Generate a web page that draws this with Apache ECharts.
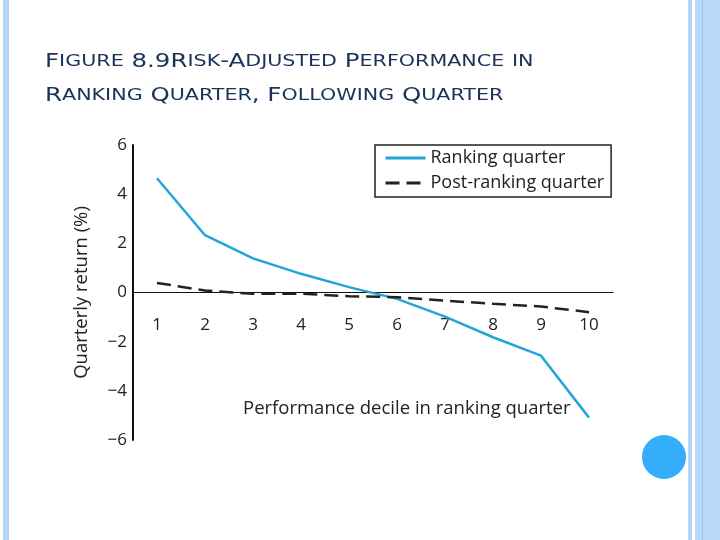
<!DOCTYPE html>
<html>
<head>
<meta charset="utf-8">
<script src="https://cdn.jsdelivr.net/npm/echarts@6/dist/echarts.min.js"></script>
<style>
  html, body { margin: 0; padding: 0; background: #ffffff; }
  #main { width: 720px; height: 540px; }
</style>
</head>
<body>
<div id="main"></div>
<script>
// deciles 1..10
var deciles = ["1", "2", "3", "4", "5", "6", "7", "8", "9", "10"];
var rankingQuarter = [4.65, 2.33, 1.39, 0.76, 0.22, -0.26, -0.98, -1.82, -2.57, -5.09];
var postRankingQuarter = [0.39, 0.08, -0.05, -0.05, -0.15, -0.19, -0.33, -0.46, -0.57, -0.8];
var yTicks = [-6, -4, -2, 0, 2, 4, 6];

var titleLines = [
  "Figure 8.9Risk-Adjusted Performance in",
  "Ranking Quarter, Following Quarter"
];

// small caps: lowercase letters -> smaller uppercase
function smallCaps(str) {
  var out = "";
  var cur = null, buf = "";
  for (var i = 0; i < str.length; i++) {
    var c = str[i];
    var t = (c >= "a" && c <= "z") ? "s" : "b";
    if (t !== cur && buf) {
      out += "{" + cur + "|" + buf + "}";
      buf = "";
    }
    cur = t;
    buf += c.toUpperCase();
  }
  if (buf) out += "{" + cur + "|" + buf + "}";
  return out;
}

var chart = echarts.init(document.getElementById("main"));

var option = {
  backgroundColor: "#ffffff",
  animation: false,
  legend: {
    orient: "vertical",
    left: 375,
    top: 145,
    padding: [3, 7, 4, 9],
    itemGap: 5,
    itemWidth: 40,
    itemHeight: 14,
    borderColor: "#222222",
    borderWidth: 1.5,
    backgroundColor: "#ffffff",
    itemStyle: { opacity: 0 },
    lineStyle: { width: 3 },
    textStyle: { fontFamily: "Open Sans", fontSize: 18, lineHeight: 20, color: "#222222" },
    data: ["Ranking quarter", "Post-ranking quarter"]
  },
  grid: {
    left: 133,
    top: 145,
    width: 480,
    height: 295
  },
  xAxis: {
    type: "category",
    data: deciles,
    boundaryGap: true,
    axisLine: { onZero: true, lineStyle: { color: "#111111", width: 1 } },
    axisTick: { show: false },
    axisLabel: { margin: -123, fontFamily: "Open Sans", fontSize: 17, color: "#222222" },
    splitLine: { show: false }
  },
  yAxis: {
    type: "value",
    min: yTicks[0],
    max: yTicks[yTicks.length - 1],
    interval: 2,
    name: "Quarterly return (%)",
    nameLocation: "middle",
    nameGap: 42,
    nameMoveOverlap: false,
    nameTextStyle: { fontFamily: "Open Sans", fontSize: 18.5, color: "#222222" },
    axisLine: { show: true, onZero: false, lineStyle: { color: "#111111", width: 2 } },
    axisTick: { show: false },
    axisLabel: {
      margin: 6,
      fontFamily: "Open Sans",
      fontSize: 17,
      color: "#222222",
      formatter: function (v) { return String(v).replace("-", "\u2212"); }
    },
    splitLine: { show: false }
  },
  graphic: [
    { type: "rect", shape: { x: 3, y: 0, width: 6, height: 540 }, style: { fill: "#b5d6f6" }, silent: true },
    { type: "rect", shape: { x: 688, y: 0, width: 4, height: 540 }, style: { fill: "#b5d6f6" }, silent: true },
    { type: "rect", shape: { x: 695, y: 0, width: 25, height: 540 }, style: { fill: "#b8d9fa" }, silent: true },
    { type: "rect", shape: { x: 702, y: 0, width: 1, height: 540 }, style: { fill: "#96c4ef" }, silent: true },
    { type: "circle", shape: { cx: 664, cy: 457, r: 22 }, style: { fill: "#34aef9" }, silent: true },
    {
      // slide title, small caps, stretched like the original
      type: "text",
      x: 45,
      y: 45,
      scaleX: 1.29,
      style: {
        text: titleLines.map(smallCaps).join("\n"),
        rich: {
          b: { fontFamily: "DejaVu Sans", fontSize: 19, fill: "#1a3158", lineHeight: 34 },
          s: { fontFamily: "DejaVu Sans", fontSize: 16, fill: "#1a3158", lineHeight: 34 }
        }
      },
      silent: true
    },
    {
      type: "text",
      left: 243,
      top: 399,
      style: { text: "Performance decile in ranking quarter", font: "18.5px 'Open Sans'", fill: "#222222" },
      silent: true
    }
  ],
  series: [
    {
      name: "Ranking quarter",
      type: "line",
      data: rankingQuarter,
      symbol: "none",
      lineStyle: { color: "#22a5d8", width: 2.5 },
      itemStyle: { color: "#22a5d8" }
    },
    {
      name: "Post-ranking quarter",
      type: "line",
      data: postRankingQuarter,
      symbol: "none",
      lineStyle: { color: "#222222", width: 2.5, type: [14, 7] },
      itemStyle: { color: "#222222" }
    }
  ]
};

chart.setOption(option);
</script>
</body>
</html>
